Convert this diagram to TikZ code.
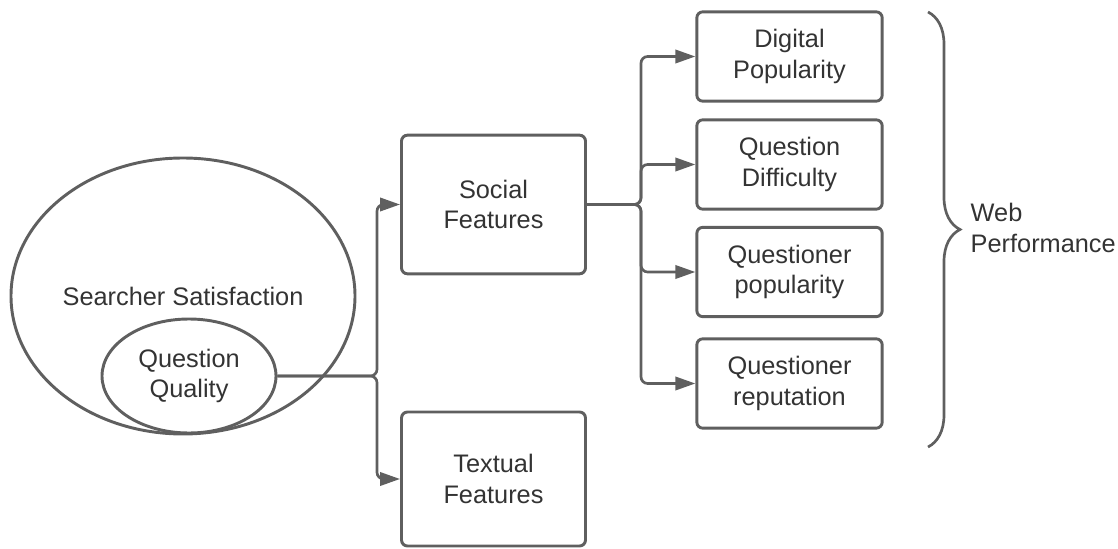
\documentclass[tikz,border=0pt]{standalone}
\usepackage{fontspec}
\setmainfont{Liberation Sans}
\usetikzlibrary{shapes.geometric}
\usetikzlibrary{arrows.meta}
\usetikzlibrary{decorations.pathreplacing}
\definecolor{linegray}{HTML}{5F5F5F}
\definecolor{textgray}{HTML}{333333}
\tikzset{labelfont/.style={text=textgray,font=\fontsize{19}{23}\selectfont},
 box/.style={labelfont,draw=linegray,line width=2.2pt,rounded corners=4.5pt,align=center,inner sep=0pt},
 featbox/.style={box,minimum width=138pt,minimum height=104pt},
 perfbox/.style={box,minimum width=139pt,minimum height=67pt},
 oval/.style={labelfont,ellipse,draw=linegray,line width=2.2pt,align=center,inner sep=0pt},
 link/.style={draw=linegray,line width=2pt,rounded corners=5pt,-{Triangle[length=15pt,width=10pt]}},
 }

\begin{document}
\begin{tikzpicture}[x=0.75pt,y=-0.75pt]
        \useasboundingbox (0,0) rectangle (1118,549);
        \node[oval,minimum width=258pt,minimum height=207pt] (searcher) at (183,296) {Searcher Satisfaction};
        \node[oval,minimum width=130.5pt,minimum height=85.5pt] (quality) at (189,376) {Question\\Quality};
        \node[featbox] (social) at (493.5,204.5) {Social\\Features};
        \node[featbox,minimum height=100.5pt] (textual) at (493.5,479) {Textual\\Features};
        \node[perfbox] (digital) at (789.5,56.5) {Digital\\Popularity};
        \node[perfbox] (difficulty) at (789.5,164.5) {Question\\Difficulty};
        \node[perfbox] (askerpop) at (789.5,272) {Questioner\\popularity};
        \node[perfbox] (askerrep) at (789.5,383.5) {Questioner\\reputation};
        \coordinate (split) at (377,0);
        \coordinate (fork) at (641,0);
        \draw[link] (quality.east) -- (quality.east -| split) |- (social.west);
        \draw[link] (quality.east) -- (quality.east -| split) |- (textual.west);
        \foreach \target in {digital,difficulty,askerpop,askerrep}
            \draw[link] (social.east) -- (social.east -| fork) |- (\target.west);
        \draw[linegray,line width=2pt,decorate,decoration={brace,amplitude=24pt}] (928,12) -- (928,447);
        \node[labelfont,anchor=west,align=left] (web) at (966,228) {Web\\Performance};
    \end{tikzpicture}
\end{document}
